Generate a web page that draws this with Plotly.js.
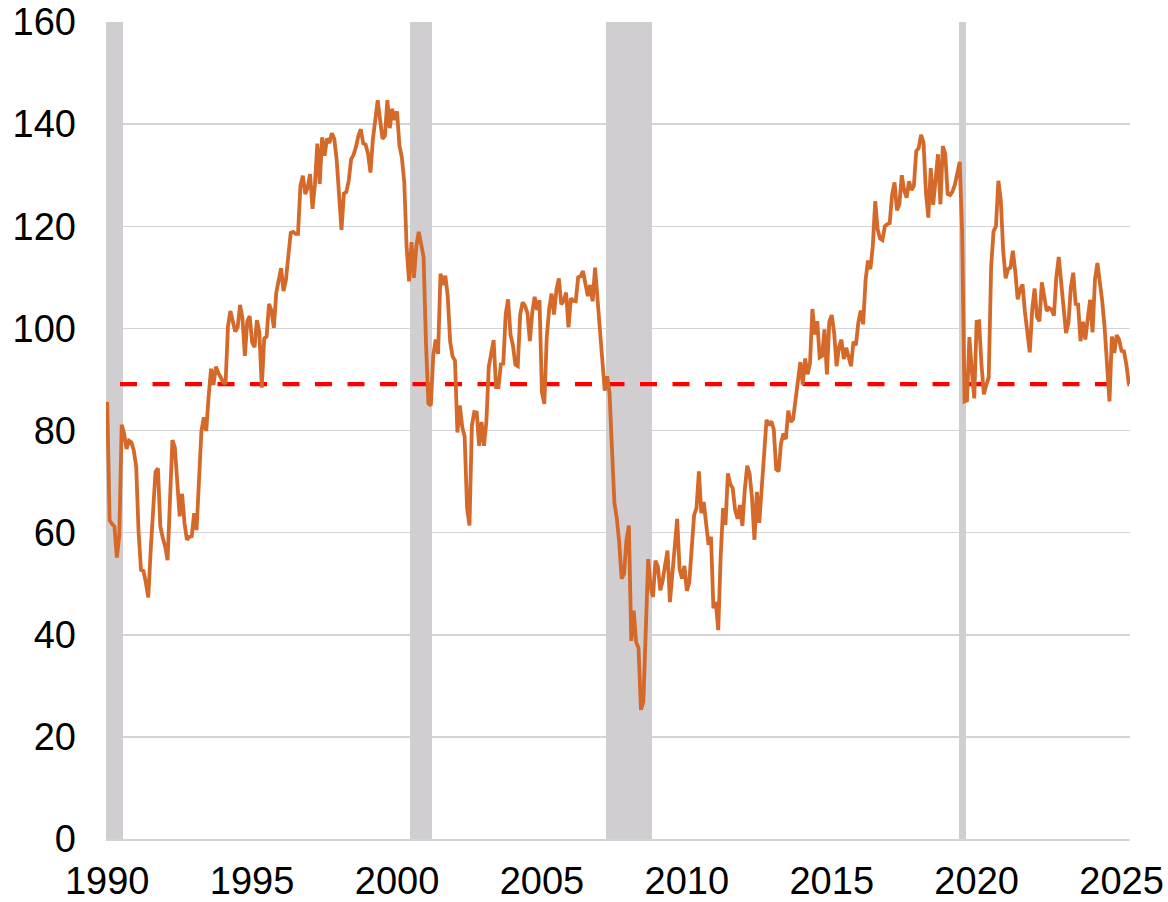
<!DOCTYPE html>
<html>
<head>
<meta charset="utf-8">
<script src="https://cdn.plot.ly/plotly-3.0.1.min.js"></script>
<style>
html,body{margin:0;padding:0;background:#ffffff;}
#chart{width:1168px;height:902px;}
</style>
</head>
<body>
<div id="chart"></div>
<script>
// ---- data -------------------------------------------------------------
// Monthly consumer confidence index, first observation September 1990
const START_YEAR = 1990;
const START_MONTH = 9;

const cci1990s = [
  85.6, 62.4, 61.7, 61.2,
  55.1, 59.4, 81.1, 79.4, 76.4, 78.0, 77.7, 76.1, 72.9, 60.1, 52.7, 52.5,
  50.2, 47.3, 56.5, 65.1, 71.9, 72.6, 61.2, 59.0, 57.3, 54.6, 65.6, 78.1,
  76.7, 68.5, 63.2, 67.6, 61.9, 58.6, 59.2, 59.3, 63.8, 60.5, 71.9, 79.8,
  82.6, 79.9, 86.7, 92.1, 88.9, 92.5, 91.3, 90.4, 89.5, 89.1, 100.4, 103.4,
  101.4, 99.4, 100.2, 104.6, 102.0, 94.6, 101.4, 102.4, 97.3, 96.3, 101.6, 99.2,
  88.4, 98.0, 98.4, 104.8, 103.5, 100.1, 107.0, 109.4, 111.8, 107.3, 109.5, 114.2,
  118.7, 118.9, 118.5, 118.5, 127.9, 129.9, 126.3, 127.6, 130.2, 123.4, 128.1, 136.2,
  128.3, 137.4, 133.8, 137.2, 136.3, 138.2, 137.2, 133.1, 126.4, 119.3, 126.4, 126.7,
  128.9, 133.1, 134.0, 135.5, 137.7, 139.0, 136.2, 136.0, 134.2, 130.5, 137.0, 141.7
];
const cci2000s = [
  144.7, 140.8, 137.1, 137.7, 144.7, 139.2, 143.0, 140.8, 142.5, 135.8, 133.5, 128.6,
  115.7, 109.2, 116.9, 109.9, 116.1, 118.9, 116.3, 114.0, 97.0, 85.3, 84.9, 94.6,
  97.8, 95.0, 110.7, 108.5, 110.3, 106.3, 97.4, 94.5, 93.7, 79.6, 84.9, 80.7,
  78.8, 64.8, 61.4, 81.0, 83.6, 83.5, 77.0, 81.7, 77.0, 81.7, 92.5, 94.8,
  97.7, 88.5, 88.5, 93.0, 93.1, 102.8, 105.7, 98.7, 96.7, 92.9, 92.6, 102.7,
  105.1, 104.4, 103.0, 97.5, 103.1, 106.2, 103.6, 105.5, 87.5, 85.2, 98.3, 103.8,
  106.8, 102.7, 107.5, 109.8, 104.7, 105.4, 107.0, 100.2, 105.9, 105.4, 105.3, 110.0,
  110.2, 111.2, 108.2, 106.3, 108.5, 105.3, 111.9, 105.6, 99.5, 95.2, 87.8, 90.6,
  87.3, 76.4, 65.9, 62.8, 58.1, 51.0, 51.9, 58.5, 61.4, 38.8, 44.7, 38.6,
  37.4, 25.3, 26.9, 40.8, 54.8, 49.3, 47.4, 54.5, 53.4, 48.7, 50.6, 53.6
];
const cci2010s = [
  56.5, 46.4, 52.3, 57.7, 62.7, 52.9, 51.0, 53.5, 48.6, 50.2, 57.0, 63.4,
  64.8, 72.0, 63.8, 66.0, 61.7, 57.6, 59.2, 45.2, 46.4, 40.9, 55.2, 64.8,
  61.5, 71.6, 69.5, 68.7, 64.4, 62.7, 65.4, 61.3, 68.4, 73.1, 71.5, 66.7,
  58.6, 68.0, 61.9, 69.0, 76.2, 82.1, 81.0, 81.8, 80.2, 72.4, 72.0, 77.5,
  79.4, 78.3, 83.9, 81.7, 82.2, 86.4, 90.3, 93.4, 89.0, 94.1, 91.0, 93.1,
  103.8, 98.8, 101.4, 94.3, 94.6, 99.8, 91.0, 101.3, 102.6, 99.1, 92.6, 96.3,
  97.8, 94.0, 96.2, 94.2, 92.6, 97.4, 96.7, 101.1, 103.5, 100.8, 109.4, 113.3,
  111.6, 116.1, 124.9, 119.4, 117.6, 117.3, 120.0, 120.4, 120.6, 126.2, 128.6, 123.1,
  124.3, 130.0, 127.0, 125.6, 128.8, 127.1, 127.9, 134.7, 135.3, 137.9, 136.4, 126.6,
  121.7, 131.4, 124.2, 129.2, 134.1, 124.3, 135.7, 134.2, 126.3, 126.1, 126.8, 128.2
];
const cci2020s = [
  130.4, 132.6, 118.8, 85.7, 85.9, 98.3, 91.7, 86.3, 101.3, 101.4, 92.9, 87.1,
  88.9, 90.4, 112.0, 119.0, 120.0, 128.9, 125.1, 115.2, 109.8, 111.6, 111.9, 115.2,
  111.1, 105.7, 107.6, 108.6, 103.2, 98.4, 95.3, 103.6, 107.8, 102.2, 101.4, 109.0,
  106.0, 103.4, 104.0, 103.7, 102.5, 110.1, 114.0, 108.7, 104.3, 99.1, 101.0, 108.0,
  110.9, 104.8, 104.7, 97.5, 101.3, 97.8, 101.9, 105.6, 99.2, 109.6, 112.8, 109.5,
  105.3, 100.1, 93.9, 85.7, 98.4, 95.2, 98.7, 97.8, 95.6, 95.5, 92.9, 89.1
];

// NBER recessions (first and last month)
const recessionStarts = ['1990-07', '2001-03', '2007-12', '2020-02'];
const recessionEnds   = ['1991-03', '2001-11', '2009-06', '2020-04'];

// axis labels
const tickYears = [1990, 1995, 2000, 2005, 2010, 2015, 2020, 2025];
const yTicks = [0, 20, 40, 60, 80, 100, 120, 140, 160];

// ---- build ------------------------------------------------------------
const values = [].concat(cci1990s, cci2000s, cci2010s, cci2020s);
const n = values.length;
const monthKeys = [];
const idx = [];
for (let i = 0; i < n; i++) {
  const m0 = START_MONTH - 1 + i;
  const y = START_YEAR + Math.floor(m0 / 12);
  const m = (m0 % 12) + 1;
  monthKeys.push(y + '-' + String(m).padStart(2, '0'));
  idx.push(i);
}

// category positions of the labelled years (every 60 months from the first)
const tickVals = [];
const tickText = [];
tickYears.forEach(function (yr) {
  const key = yr + '-' + String(START_MONTH).padStart(2, '0');
  const k = monthKeys.indexOf(key);
  if (k >= 0) { tickVals.push(k); tickText.push(String(yr)); }
});

// recession months
const recX = [];
const recY = [];
const Y_MAX = yTicks[yTicks.length - 1];
monthKeys.forEach(function (key, i) {
  for (let r = 0; r < recessionStarts.length; r++) {
    if (key >= recessionStarts[r] && key <= recessionEnds[r]) {
      recX.push(i); recY.push(Y_MAX); break;
    }
  }
});

const latest = values[n - 1];

const FONT = 'Liberation Sans, Arial, Helvetica, sans-serif';

const traces = [
  {
    type: 'bar', x: recX, y: recY, width: 1,
    marker: { color: '#D0CED1', line: { width: 0 } },
    hoverinfo: 'skip', showlegend: false
  },
  {
    type: 'scatter', mode: 'lines',
    x: [0, n - 1], y: [latest, latest],
    line: { color: '#FF0000', width: 4.3, dash: '0px,12.8px,17px,2.7px' },
    hoverinfo: 'skip', showlegend: false
  },
  {
    type: 'scatter', mode: 'lines',
    x: idx, y: values,
    line: { color: '#D4692A', width: 3.8 },
    showlegend: false
  }
];

const layout = {
  width: 1168, height: 902,
  margin: { l: 106, r: 38, t: 22, b: 63, pad: 0 },
  paper_bgcolor: '#ffffff', plot_bgcolor: '#ffffff',
  showlegend: false,
  bargap: 0,
  font: { family: FONT, size: 38, color: '#000000' },
  xaxis: {
    range: [-0.5, n - 0.5],
    tickmode: 'array', tickvals: tickVals, ticktext: tickText,
    ticks: '', showgrid: false, zeroline: false,
    showline: true, linecolor: '#D4D4D8', linewidth: 1.5,
    tickfont: { family: FONT, size: 38, color: '#000000' },
    ticklabelstandoff: 8
  },
  yaxis: {
    range: [0, Y_MAX],
    tickmode: 'array', tickvals: yTicks,
    ticks: '', showgrid: true, gridcolor: '#D4D4D8', gridwidth: 1.5,
    zeroline: false, showline: false,
    tickfont: { family: FONT, size: 38, color: '#000000' },
    ticklabelstandoff: 29
  }
};

Plotly.newPlot('chart', traces, layout, { displayModeBar: false, staticPlot: true });
</script>
</body>
</html>
